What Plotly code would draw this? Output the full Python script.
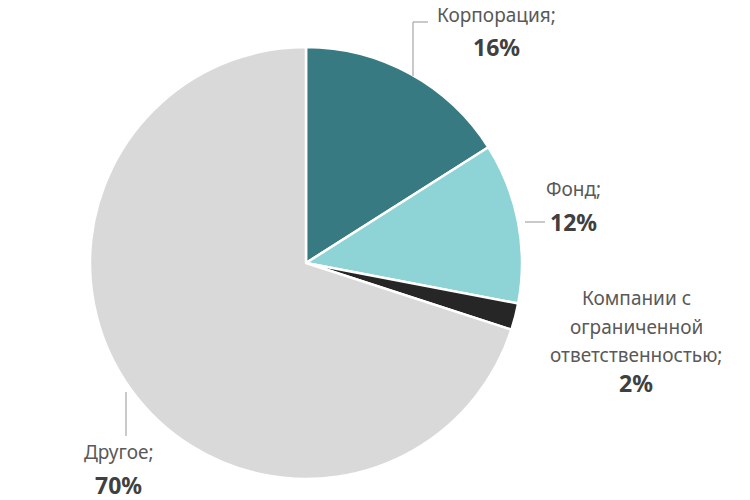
import plotly.graph_objects as go

# ---- data ----
categories = ["Корпорация", "Фонд", "Компании с ограниченной ответственностью", "Другое"]
values = [16, 12, 2, 70]
label_lines = [
    ["Корпорация;"],
    ["Фонд;"],
    ["Компании с", "ограниченной", "ответственностью;"],
    ["Другое;"],
]
pct_labels = ["16%", "12%", "2%", "70%"]
colors = ["#377a81", "#8ed4d7", "#262626", "#d9d9d9"]

# ---- layout constants (pixels in a 750x500 canvas) ----
W, H = 750, 500
cx, cy, r = 306, 263, 216
# label placements: (x center, y of first line, line step, y of percent)
label_pos = [
    (497, 15, 28, 47),
    (573, 189, 28, 222),
    (636, 298, 28.5, 383),
    (118, 452, 28, 485),
]
leaders = [
    [(413, 22), (428, 22)], [(413, 22), (413, 76)],
    [(525, 222), (545, 222)],
    [(126, 392), (126, 436)],
]

fig = go.Figure(go.Pie(
    labels=categories,
    values=values,
    sort=False,
    direction="clockwise",
    rotation=0,
    marker=dict(colors=colors, line=dict(color="white", width=2.5)),
    textinfo="none",
    hoverinfo="label+percent",
    domain=dict(x=[(cx - r) / W, (cx + r) / W], y=[(H - cy - r) / H, (H - cy + r) / H]),
    showlegend=False,
))

def px(x):
    return x / W

def py(y):
    return 1 - y / H

annotations = []
for lines, pct, (x, y0, step, yp) in zip(label_lines, pct_labels, label_pos):
    for i, t in enumerate(lines):
        annotations.append(dict(x=px(x), y=py(y0 + i * step), xref="paper", yref="paper",
                                text=t, showarrow=False, xanchor="center", yanchor="middle",
                                font=dict(family="Noto Sans", size=19, color="#595959")))
    annotations.append(dict(x=px(x), y=py(yp), xref="paper", yref="paper",
                            text="<b>" + pct + "</b>", showarrow=False, xanchor="center", yanchor="middle",
                            font=dict(family="Noto Sans", size=23, color="#404040")))

shapes = []
for (x0, y0), (x1, y1) in leaders:
    shapes.append(dict(type="line", xref="paper", yref="paper", x0=px(x0), y0=py(y0), x1=px(x1), y1=py(y1),
                       line=dict(color="#a6a6a6", width=1.2)))

fig.update_layout(
    width=W, height=H,
    margin=dict(l=0, r=0, t=0, b=0),
    paper_bgcolor="white", plot_bgcolor="white",
    annotations=annotations, shapes=shapes,
)

fig.write_html("out.html", config={"displayModeBar": False},
               post_script="document.body.style.margin='0';document.body.style.overflow='hidden';")
